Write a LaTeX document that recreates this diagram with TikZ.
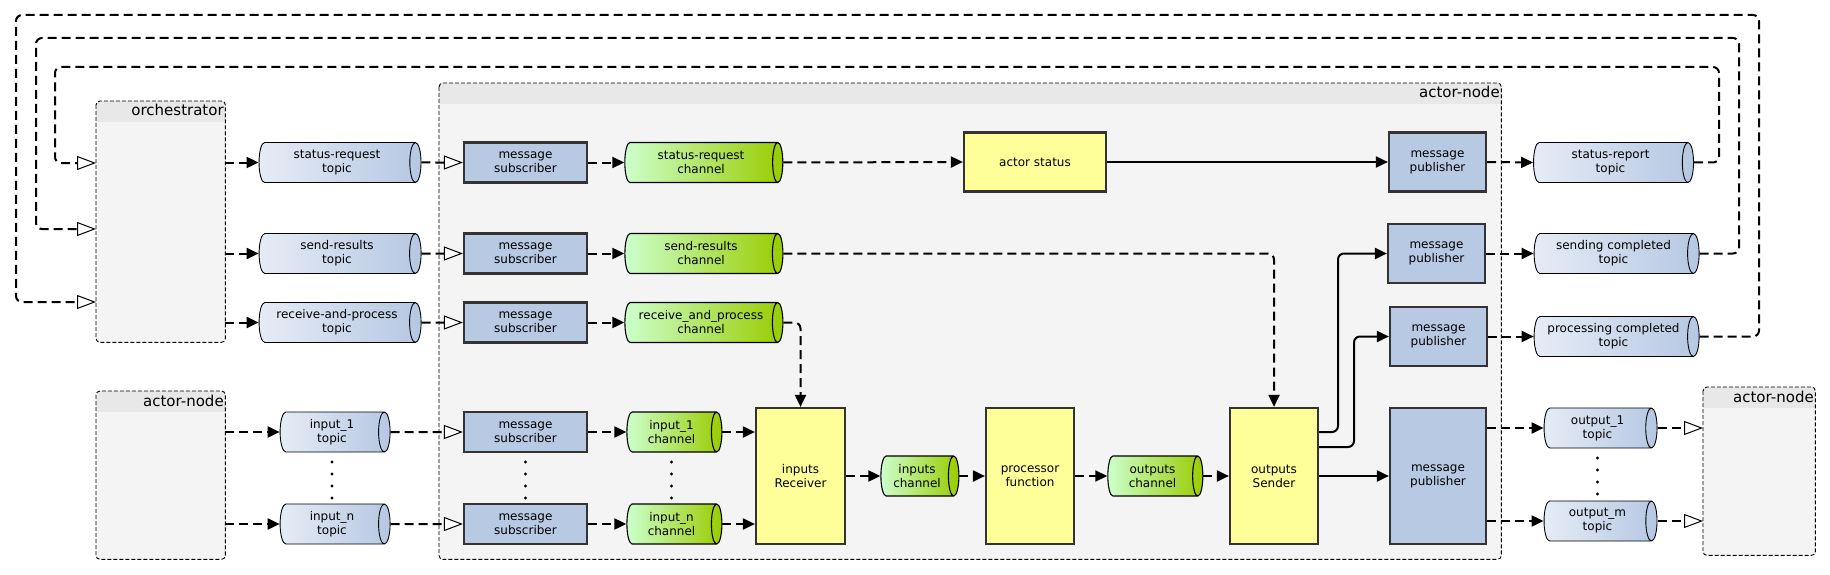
\documentclass[tikz,border=0pt]{standalone}
\usepackage{fontspec}
\setmainfont{DejaVu Sans}
\usetikzlibrary{shapes.geometric,arrows.meta,calc}
\definecolor{contfill}{HTML}{F4F4F4}
\definecolor{headfill}{HTML}{E8E8E8}
\definecolor{boxblue}{HTML}{B8C9E3}
\definecolor{boxyellow}{HTML}{FFFF99}
\definecolor{topicL}{HTML}{E6ECF6}
\definecolor{topicR}{HTML}{B5C7E2}
\definecolor{chanL}{HTML}{CCFFCC}
\definecolor{chanR}{HTML}{99CC00}
\definecolor{boxline}{HTML}{333333}
\newcommand\mkcont[6]{%
  \node[cont, minimum width=#4pt, minimum height=#5pt, anchor=north west] (#1) at (#2,#3) {};
  \begin{scope}
    \clip[rounded corners=4pt] (#1.north west) rectangle (#1.south east);
    \fill[headfill] (#1.north west) rectangle ($(#1.north east)+(0,21)$);
  \end{scope}
  \draw[cborder] (#1.north west) rectangle (#1.south east);
  \node[ctitle, anchor=base east] (#1-title) at ($(#1.north east)+(-1.5,15)$) {#6};
}
\begin{document}
\begin{tikzpicture}[x=1pt,y=-1pt,
  font=\fontsize{12}{14}\selectfont,
  every node/.style={align=center},
  cont/.style={rectangle, fill=contfill, inner sep=0pt, rounded corners=4pt},
  cborder/.style={draw=black, line width=0.9pt, dash pattern=on 4pt off 2pt, rounded corners=4pt},
  ctitle/.style={font=\fontsize{15}{18}\selectfont, inner sep=0pt},
  topic/.style={cylinder, aspect=0.45, draw=black, line width=0.9pt, left color=topicL, right color=topicR, minimum width=40pt, inner xsep=2pt, inner ysep=0pt, text=black},
  chan/.style={topic, left color=chanL, right color=chanR, line width=1.1pt},
  bbox/.style={rectangle, draw=boxline, line width=2.2pt, fill=boxblue, inner sep=0pt},
  ybox/.style={bbox, fill=boxyellow},
  dconn/.style={line width=2pt, dash pattern=on 9pt off 5pt, -{Triangle[length=12pt,width=11pt]}},
  oconn/.style={line width=2pt, dash pattern=on 9pt off 5pt, -{Triangle[open,length=19pt,width=14pt,line width=1pt,fill=white]}},
  sconn/.style={line width=2pt, -{Triangle[length=12pt,width=11pt]}},
  rc/.style={rounded corners=6pt}
]
\fill[white] (0,0) rectangle (1830,575);
\useasboundingbox (0,0) rectangle (1830,575);

% containers
\mkcont{orch}{96}{101}{129}{241}{orchestrator}
\mkcont{anL}{96}{391}{129}{168}{actor-node}
\mkcont{anM}{439}{83}{1062}{476}{actor-node}
\mkcont{anR}{1703}{387}{112}{168}{actor-node}

% topics
\node[topic, minimum height=162pt] (tsr) at (337,162.5) {status-request\\topic};
\node[topic, minimum height=162pt] (tsres) at (337,253.5) {send-results\\topic};
\node[topic, minimum height=162pt] (trap) at (337,322.5) {receive-and-process\\topic};
\node[topic, minimum height=110pt] (tin1) at (332,432) {input\_1\\topic};
\node[topic, minimum height=110pt] (tinn) at (332,524) {input\_n\\topic};
\node[topic, minimum height=160pt] (tsrep) at (1610.5,162.5) {status-report\\topic};
\node[topic, minimum height=165pt] (tscomp) at (1613.5,253.5) {sending completed\\topic};
\node[topic, minimum height=165pt] (tpcomp) at (1613.5,336.5) {processing completed\\topic};
\node[topic, minimum height=113pt] (tout1) at (1597.5,428) {output\_1\\topic};
\node[topic, minimum height=113pt] (toutm) at (1597.5,521) {output\_m\\topic};

% subscribers
\node[bbox, minimum width=123pt, minimum height=40pt] (ms1) at (525.5,162.5) {message\\subscriber};
\node[bbox, minimum width=123pt, minimum height=40pt] (ms2) at (525.5,253.5) {message\\subscriber};
\node[bbox, minimum width=123pt, minimum height=40pt] (ms3) at (525.5,322.5) {message\\subscriber};
\node[bbox, minimum width=123pt, minimum height=40pt] (ms4) at (525.5,432) {message\\subscriber};
\node[bbox, minimum width=123pt, minimum height=40pt] (ms5) at (525.5,524) {message\\subscriber};

% channels
\node[chan, minimum height=158pt] (csr) at (701,162.5) {status-request\\channel};
\node[chan, minimum height=158pt] (csres) at (701,253.5) {send-results\\channel};
\node[chan, minimum height=158pt] (crap) at (701,322.5) {receive\_and\_process\\channel};
\node[chan, minimum height=95pt] (cin1) at (671.5,432) {input\_1\\channel};
\node[chan, minimum height=95pt] (cinn) at (671.5,524) {input\_n\\channel};
\node[chan, minimum height=78pt] (cinp) at (917,476) {inputs\\channel};
\node[chan, minimum height=95pt] (cout) at (1152.5,476) {outputs\\channel};

% processing boxes
\node[ybox, minimum width=142pt, minimum height=59pt] (astat) at (1035,162) {actor status};
\node[ybox, minimum width=89pt, minimum height=136pt] (recv) at (800.5,476) {inputs\\Receiver};
\node[ybox, minimum width=88pt, minimum height=136pt] (proc) at (1030,476) {processor\\function};
\node[ybox, minimum width=88pt, minimum height=136pt] (send) at (1274,476) {outputs\\Sender};

% publishers
\node[bbox, minimum width=97pt, minimum height=59pt] (mp1) at (1437.5,162) {message\\publisher};
\node[bbox, minimum width=97pt, minimum height=59pt] (mp2) at (1436.5,253.5) {message\\publisher};
\node[bbox, minimum width=97pt, minimum height=59pt] (mp3) at (1438.5,336.5) {message\\publisher};
\node[bbox, minimum width=96pt, minimum height=136pt] (mp4) at (1438,476) {message\\publisher};

% orchestrator -> topics -> subscribers -> channels
\foreach \t/\s/\c in {tsr/ms1/csr, tsres/ms2/csres, trap/ms3/crap}{
  \draw[dconn] (orch.east |- \t.west) -- (\t.west);
  \draw[oconn] (\t.east) -- (\s.west);
  \draw[dconn] (\s.east) -- (\c.west);
}
\foreach \t/\s/\c in {tin1/ms4/cin1, tinn/ms5/cinn}{
  \draw[dconn] (anL.east |- \t.west) -- (\t.west);
  \draw[oconn] (\t.east) -- (\s.west);
  \draw[dconn] (\s.east) -- (\c.west);
  \draw[dconn] (\c.east) -- (recv.west |- \c.east);
}

% internal flow
\draw[dconn] (csr.east) -- (astat.west);
\draw[sconn] (astat.east) -- (mp1.west);
\draw[dconn, rc] (crap.east) -| (recv.north);
\draw[dconn, rc] (csres.east) -| (send.north);
\draw[dconn] (recv.east |- cinp.west) -- (cinp.west);
\draw[dconn] (cinp.east) -- (proc.west |- cinp.east);
\draw[dconn] (proc.east |- cout.west) -- (cout.west);
\draw[dconn] (cout.east) -- (send.west |- cout.east);
\draw[sconn, rc] (send.east |- 0,432) -- (1338,432) |- (mp2.west);
\draw[sconn, rc] (send.east |- 0,447) -- (1354,447) |- (mp3.west);
\draw[sconn] (send.east) -- (mp4.west);

% publishers -> topics
\draw[dconn] (mp1.east) -- (tsrep.west);
\draw[dconn] (mp2.east) -- (tscomp.west);
\draw[dconn] (mp3.east) -- (tpcomp.west);
\draw[dconn] (mp4.east |- tout1.west) -- (tout1.west);
\draw[dconn] (mp4.east |- toutm.west) -- (toutm.west);
\draw[oconn] (tout1.east) -- (anR.west |- tout1.east);
\draw[oconn] (toutm.east) -- (anR.west |- toutm.east);

% feedback loops to orchestrator
\draw[oconn, rc] (tsrep.east) -| (1719,67) -| (55,163) -- (orch.west |- 0,163);
\draw[oconn, rc] (tscomp.east) -| (1739,38) -| (36,229) -- (orch.west |- 0,229);
\draw[oconn, rc] (tpcomp.east) -| (1759,15) -| (16,302) -- (orch.west |- 0,302);

% ellipsis dots
\foreach \x in {332,525.5,671.5}{
  \foreach \y in {462,474,486,498}{\fill (\x,\y) circle (1.6pt);}
}
\foreach \y in {458,470,482,494}{\fill (1597.5,\y) circle (1.6pt);}
\end{tikzpicture}
\end{document}
